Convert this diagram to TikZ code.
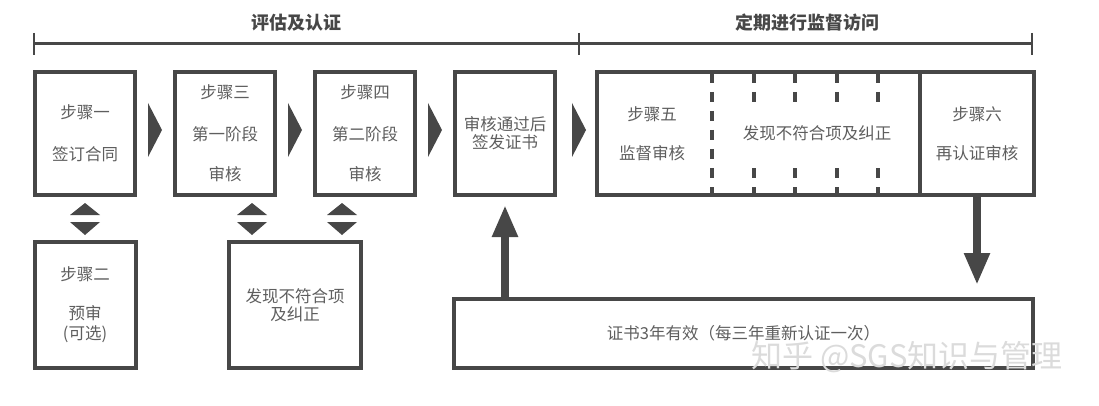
\documentclass[tikz,border=0pt]{standalone}
\usepackage{fontspec}
\newfontfamily\cjk{Noto Sans CJK SC}
\usetikzlibrary{arrows.meta, positioning, calc}
\definecolor{boxgray}{HTML}{474747}
\definecolor{txtgray}{HTML}{5E5E5E}

\begin{document}
\begin{tikzpicture}[
    x=1pt, y=-1pt,
    node distance=36pt and 36pt,
    every node/.style={font=\cjk\fontsize{16.5}{19}\selectfont, text=txtgray, align=center},
    box/.style={rectangle, draw=boxgray, line width=4pt, align=center, inner sep=0pt,
                minimum width=100pt, minimum height=123pt},
    lowbox/.style={box, minimum height=126pt},
    headtxt/.style={font=\cjk\bfseries\fontsize{18}{21}\selectfont, text=boxgray},
    bracketline/.style={draw=boxgray, line width=3pt},
    dashsep/.style={draw=boxgray, line width=4pt, dash pattern=on 10pt off 9pt},
    bigarr/.style={draw=boxgray, line width=8pt, -{Triangle[width=24pt, length=32pt]}},
    rtri/.pic={\fill[boxgray] (-7,-27) -- (7,0) -- (-7,27) -- cycle;},
    udtri/.pic={\fill[boxgray] (-15,-3.5) -- (0,-15.5) -- (15,-3.5) -- cycle;
                \fill[boxgray] (-15,3.5) -- (0,16.5) -- (15,3.5) -- cycle;}
]
\useasboundingbox (0,0) rectangle (1099,406);

% phases on top
\node[headtxt] (t1) at (296,23) {评估及认证};
\node[headtxt] (t2) at (807,23) {定期进行监督访问};
\draw[bracketline] (34,44) -- (579,44);
\draw[bracketline] (579,44) -- (1032,44);
\foreach \x in {34,579,1032} \draw[draw=boxgray, line width=1.6pt] (\x,33) -- (\x,55);

% top row
\node[box] (b1) at (85,133.5) {步骤一\\[23pt]签订合同};
\node[box, right=of b1] (b3) {步骤三\\[23pt]第一阶段\\[21pt]审核};
\node[box, right=of b3] (b4) {步骤四\\[23pt]第二阶段\\[21pt]审核};
\node[box, right=of b4] (b5) {审核通过后\\[-1pt]签发证书};
\node[box, minimum width=323pt, right=38pt of b5] (sup) {};
\node[box, minimum width=114pt, right=-4pt of sup] (s6) {步骤六\\[20pt]再认证审核};
\node (s5) at ([xshift=57pt]sup.west) {步骤五\\[20pt]监督审核};
\node (nc) at ([xshift=222pt]sup.west) {发现不符合项及纠正};

\draw[dashsep] ([shift={(117,3)}]sup.north west) -- ([shift={(117,0)}]sup.south west);
\foreach \dx in {158.5,200,241.5,283} {
  \draw[dashsep] ([shift={(\dx,3)}]sup.north west) -- ++(0,29);
  \draw[dashsep] ([shift={(\dx,0)}]sup.south west) -- ++(0,-29);
}

\pic[yshift=3.5pt] at ($(b1.east)!.5!(b3.west)$) {rtri};
\pic[yshift=3.5pt] at ($(b3.east)!.5!(b4.west)$) {rtri};
\pic[yshift=3.5pt] at ($(b4.east)!.5!(b5.west)$) {rtri};
\pic[yshift=3.5pt, xshift=3pt] at ($(b5.east)!.5!(sup.west)$) {rtri};

% lower row
\node[lowbox, minimum width=101pt, below=43pt of b1] (s2) {步骤二\\[20pt]预审\\[1pt](可选)};
\coordinate (mid) at ($(b3)!.5!(b4)$);
\node[lowbox, minimum width=132pt] (fix) at (mid |- s2) {发现不符合项\\[-1pt]及纠正};

\pic at ($(b1.south)!.5!(s2.north)$) {udtri};
\pic[xshift=-43pt] at ($(fix.north)!.5!(fix.north |- b3.south)$) {udtri};
\pic[xshift=47pt] at ($(fix.north)!.5!(fix.north |- b4.south)$) {udtri};

% certificate validity
\node[box, minimum width=579pt, minimum height=69pt] (valid) at (743.5,333.5) {证书3年有效（每三年重新认证一次）};
\draw[bigarr, shorten >=8pt] (valid.north -| b5) -- (b5.south);
\draw[bigarr, shorten >=12pt] (s6.south) -- (s6.south |- valid.north);

\node[font=\cjk\fontsize{31}{33}\selectfont, text=gray!28] (mark) at (907,357) {知乎 @SGS知识与管理};
\end{tikzpicture}
\end{document}
